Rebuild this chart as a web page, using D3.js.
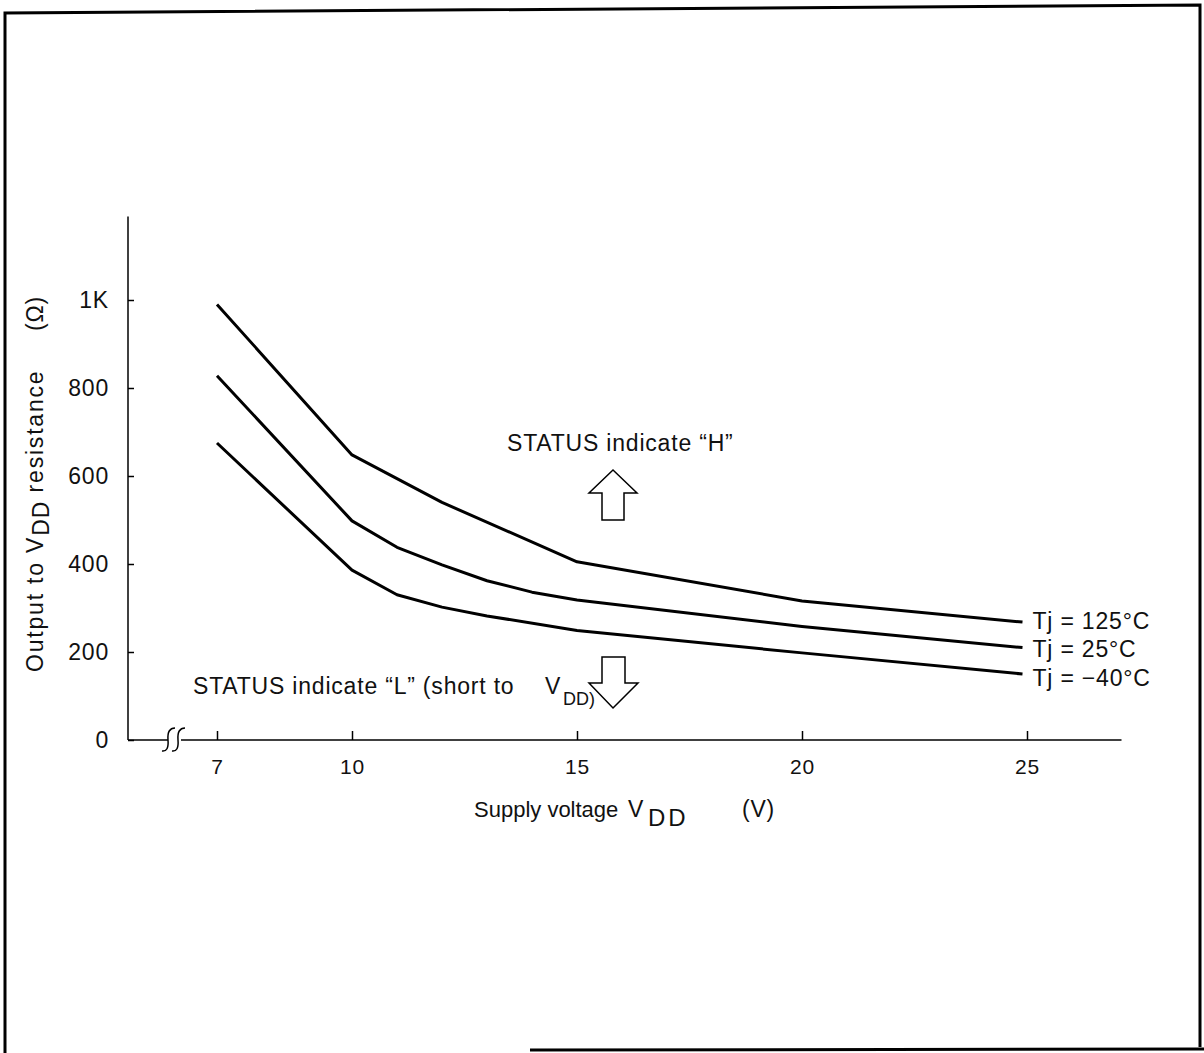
<!DOCTYPE html>
<html>
  <head>
    <meta charset="utf-8">
    <style>
      body { margin: 0; background: #fff; }
      text { font-family: "Liberation Sans", Arial, Helvetica, sans-serif; fill: #111; }
      .wide { font-size: 23px; letter-spacing: 0.8px; }
    </style>
  </head>
  <body>
    <svg id="chart"></svg>
  </body>
</html>

<script src="https://d3js.org/d3.v7.min.js"></script>

<script>
  const WIDTH = 1204
  const HEIGHT = 1053

  // tick values and labels
  const VOLT_TICKS = [7, 10, 15, 20, 25]
  const RES_TICKS = [0, 200, 400, 600, 800, 1000]
  const RES_LABELS = ['0', '200', '400', '600', '800', '1K']

  // curves (V, ohm)
  const VDD_125 = [7, 10, 12, 15, 20, 24.9]
  const RES_125 = [990, 648, 540, 405, 316, 268]
  const VDD_25 = [7, 10, 11, 12, 13, 14, 15, 20, 24.9]
  const RES_25 = [828, 498, 438, 398, 362, 336, 318, 258, 210]
  const VDD_M40 = [7, 10, 11, 12, 13, 15, 20, 24.9]
  const RES_M40 = [675, 386, 330, 302, 282, 249, 198, 150]
  const SERIES_NAMES = ['Tj = 125°C', 'Tj = 25°C', 'Tj = \u221240°C']

  let svg = d3.select('#chart')
    .attr('width', WIDTH)
    .attr('height', HEIGHT)

  let x = d3.scaleLinear().domain([10, 25]).range([352, 1027])
  let y = d3.scaleLinear().domain([0, 1000]).range([740, 300])

  // scanned frame round the figure
  svg.append('path')
    .attr('d', 'M5,1053 L5,13 L1200,5 L1200,1047')
    .attr('fill', 'none')
    .attr('stroke', '#000')
    .attr('stroke-width', 3)
  svg.append('line')
    .attr('x1', 530).attr('y1', 1050)
    .attr('x2', 1204).attr('y2', 1049)
    .attr('stroke', '#000')
    .attr('stroke-width', 3)

  // y axis
  let yAxis = svg.append('g')
    .attr('transform', 'translate(128,0)')
    .call(d3.axisLeft(y)
      .tickValues(RES_TICKS)
      .tickFormat((d, i) => RES_LABELS[i])
      .tickSize(-6)
      .tickPadding(19))
  yAxis.select('.domain').remove()
  yAxis.selectAll('line').attr('stroke', '#000').attr('stroke-width', 1.5)
  yAxis.selectAll('text').attr('class', 'wide').attr('font-family', null).attr('font-size', null)
  svg.append('line')
    .attr('x1', 128).attr('y1', y(1190))
    .attr('x2', 128).attr('y2', y(0))
    .attr('stroke', '#000').attr('stroke-width', 1.5)

  // x axis
  let xAxis = svg.append('g')
    .attr('transform', 'translate(0,' + y(0) + ')')
    .call(d3.axisBottom(x)
      .tickValues(VOLT_TICKS)
      .tickSize(-9)
      .tickPadding(19))
  xAxis.select('.domain').remove()
  xAxis.selectAll('line').attr('stroke', '#000').attr('stroke-width', 1.5)
  xAxis.selectAll('text')
    .attr('font-family', null).attr('font-size', null)
    .style('font-size', '21px').style('letter-spacing', '0.8px')
  svg.append('line')
    .attr('x1', 128).attr('y1', y(0))
    .attr('x2', 168).attr('y2', y(0))
    .attr('stroke', '#000').attr('stroke-width', 1.5)
  svg.append('line')
    .attr('x1', 181).attr('y1', y(0))
    .attr('x2', x(27.1)).attr('y2', y(0))
    .attr('stroke', '#000').attr('stroke-width', 1.5)

  // axis break marks
  ;[0, 10].forEach(function(dx) {
    svg.append('path')
      .attr('d', 'M' + (162 + dx) + ',' + 751 +
        ' q7,1 6,-11 q-1,-12 7,-12')
      .attr('fill', 'none')
      .attr('stroke', '#000')
      .attr('stroke-width', 1.5)
  })

  // curves
  let line = d3.line()
    .x(d => x(d[0]))
    .y(d => y(d[1]))
  let curves = [
    d3.zip(VDD_125, RES_125),
    d3.zip(VDD_25, RES_25),
    d3.zip(VDD_M40, RES_M40)
  ]
  svg.selectAll('path.curve')
    .data(curves)
    .enter()
    .append('path')
    .attr('class', 'curve')
    .attr('d', line)
    .attr('fill', 'none')
    .attr('stroke', '#000')
    .attr('stroke-width', 3)
    .attr('stroke-linejoin', 'round')

  // curve labels at the right ends
  svg.selectAll('text.series')
    .data(curves)
    .enter()
    .append('text')
    .attr('class', 'series wide')
    .attr('x', d => x(d[d.length - 1][0]) + 10)
    .attr('y', (d, i) => y(d[d.length - 1][1]) + 7 + i * 2.5)
    .text((d, i) => SERIES_NAMES[i])

  // axis titles
  let xTitle = svg.append('g').attr('class', 'x-title')
  xTitle.append('text').attr('class', 'wide')
    .attr('x', 474).attr('y', 817)
    .style('font-size', '22px').style('letter-spacing', '0px').text('Supply voltage')
  xTitle.append('text').attr('class', 'wide')
    .attr('x', 628).attr('y', 817).text('V')
  xTitle.append('text').attr('class', 'wide')
    .attr('x', 648).attr('y', 826).style('font-size', '24px').style('letter-spacing', '3px').text('DD')
  xTitle.append('text').attr('class', 'wide')
    .attr('x', 742).attr('y', 817).text('(V)')

  let yTitle = svg.append('text')
    .attr('class', 'wide')
    .attr('transform', 'translate(43,672) rotate(-90)')
    .style('letter-spacing', '1.8px')
  yTitle.append('tspan').text('Output to V')
  yTitle.append('tspan').attr('dy', 6).style('letter-spacing', '1px').text('DD')
  yTitle.append('tspan').attr('dy', -6).text(' resistance')
  svg.append('text')
    .attr('class', 'wide')
    .attr('transform', 'translate(43,296) rotate(-90)')
    .attr('text-anchor', 'end')
    .text('(\u03a9)')

  // status annotations
  svg.append('text')
    .attr('class', 'wide')
    .attr('x', 507)
    .attr('y', 451)
    .text('STATUS indicate \u201cH\u201d')

  svg.append('text')
    .attr('class', 'wide')
    .attr('x', 193)
    .attr('y', 694)
    .text('STATUS indicate \u201cL\u201d (short to')
  svg.append('text').attr('class', 'wide')
    .attr('x', 545).attr('y', 694).text('V')
  svg.append('text').attr('class', 'wide')
    .attr('x', 563).attr('y', 705)
    .style('font-size', '18px').style('letter-spacing', '0px').text('DD)')

  // hollow arrows
  let ax = x(15.8)
  svg.append('polygon')
    .attr('points', [
      [ax, 470], [ax + 24, 493], [ax + 11, 493], [ax + 11, 520],
      [ax - 11, 520], [ax - 11, 493], [ax - 24, 493]
    ].join(' '))
    .attr('fill', '#fff')
    .attr('stroke', '#000')
    .attr('stroke-width', 1.5)
  svg.append('polygon')
    .attr('points', [
      [ax, 708], [ax + 25, 683], [ax + 12, 683], [ax + 12, 657],
      [ax - 11, 657], [ax - 11, 683], [ax - 24, 683]
    ].join(' '))
    .attr('fill', '#fff')
    .attr('stroke', '#000')
    .attr('stroke-width', 1.5)
</script>
